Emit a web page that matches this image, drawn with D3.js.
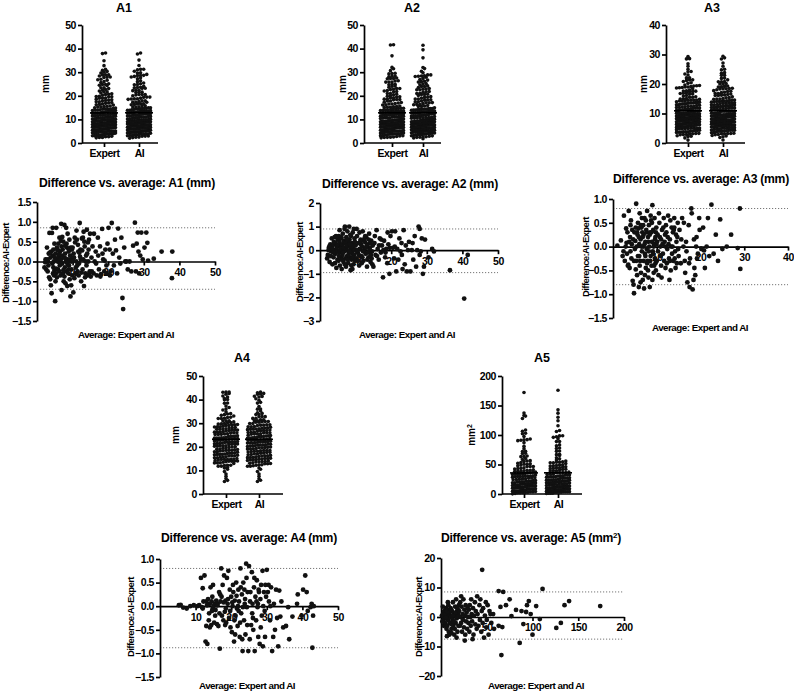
<!DOCTYPE html>
<html><head><meta charset="utf-8">
<script src="https://cdn.jsdelivr.net/npm/d3@7"></script>
<style>
body{margin:0;background:#fff;}
svg{display:block;font-family:"Liberation Sans",Arial,sans-serif;font-weight:bold;}
</style></head><body>
<svg id="chart" width="794" height="693"></svg>
<script>
const categories = ["Expert","AI"];

// [average, difference (AI-Expert)] pairs
const a1Pairs = [[2.1,-0.15],[2.4,0.05],[2.6,-0.2],[2.8,0.35],[3.0,-0.25],[3.1,0.0],[3.3,0.2],[3.4,-0.4],[3.5,0.72],[3.7,-0.45],[3.8,0.1],[3.9,-0.6],[4.0,0.25],[4.1,-0.8],[4.2,0.72],[4.3,-0.05],[4.4,0.15],[4.5,-0.3],[4.6,0.3],[4.7,0.0],[4.8,-0.35],[4.9,0.45],[5.0,0.1],[3.2,-0.1],[2.9,0.05],[4.6,-0.15],[3.6,0.22],[4.9,-0.22],[2.3,-0.02],[4.4,0.85],
[5.1,-1.0],[5.2,0.2],[5.3,-0.3],[5.4,0.85],[5.5,0.05],[5.6,-0.4],[5.7,0.3],[5.8,0.0],[5.9,-0.2],[6.0,0.45],[6.1,0.12],[6.2,-0.25],[6.3,0.6],[6.4,-0.1],[6.5,0.25],[6.6,-0.35],[6.7,0.05],[6.8,0.95],[6.9,-0.72],[7.0,0.15],[7.1,-0.05],[7.2,0.3],[7.3,-0.3],[7.4,0.5],[7.5,-0.5],[7.6,0.1],[7.7,0.92],[7.8,-0.15],[7.9,0.2],[8.0,-0.55],[8.1,0.0],[8.2,0.85],[8.3,-0.25],[8.4,0.35],[8.5,-0.62],[8.6,0.7],[8.7,0.05],[8.8,-0.3],[8.9,0.25],[9.0,-0.1],[9.1,0.55],[9.2,-0.45],[9.3,0.15],[9.4,-0.88],[9.5,0.35],[9.6,0.0],[9.7,-0.2],[9.8,0.3],[9.9,-0.35],[6.2,0.18],[6.9,0.38],[7.4,-0.22],[8.0,0.08],[8.6,-0.08],[9.2,0.02],[5.4,-0.18],[5.9,0.28],[7.1,0.62],[8.3,0.45],[9.6,-0.6],[6.5,-0.05],[7.7,-0.38],[8.9,-0.2],[5.2,-0.5],[6.7,0.52],[7.9,0.4],[9.0,0.3],[9.8,0.1],[8.4,-0.02],[5.6,0.35],
[10.0,0.35],[10.2,-0.78],[10.4,0.1],[10.6,0.6],[10.8,-0.3],[11.0,0.0],[11.2,0.55],[11.4,-0.25],[11.6,0.25],[11.8,-0.05],[12.0,0.97],[12.2,0.3],[12.4,-0.5],[12.6,0.58],[12.8,-0.2],[13.0,0.05],[13.2,-0.62],[13.4,0.38],[13.6,-0.3],[13.8,0.15],[14.0,0.8],[14.2,-0.35],[14.4,0.0],[14.6,0.55],[14.8,-0.25],[10.3,0.2],[10.9,-0.15],[11.5,0.42],[12.1,0.12],[12.7,0.28],[13.3,0.5],[13.9,-0.1],[14.5,0.3],[10.5,-0.42],[11.1,0.78],[11.7,-0.35],[12.3,0.05],[12.9,0.6],[13.5,-0.4],[14.1,0.2],[14.7,-0.3],[10.1,0.02],[10.7,0.48],[11.3,-0.1],[11.9,0.22],[12.5,-0.28],[13.1,0.75],[13.7,0.0],[14.3,0.48],[14.9,0.7],
[15.1,-0.38],[15.3,0.1],[15.6,0.38],[15.9,-0.3],[16.2,0.0],[16.5,0.25],[16.8,-0.35],[17.1,0.6],[17.4,-0.2],[17.7,0.38],[18.0,-0.32],[18.3,0.82],[18.6,0.05],[18.9,-0.25],[19.2,0.3],[19.5,-0.1],[19.8,0.45],[15.4,-0.25],[16.0,0.7],[16.6,-0.05],[17.2,0.15],[17.8,-0.38],[18.4,0.2],[19.0,0.02],[19.6,-0.3],
[20.1,0.85],[20.4,0.3],[20.7,-0.25],[21.0,0.97],[21.3,0.2],[21.6,-0.1],[21.9,0.55],[22.2,0.28],[22.5,-0.3],[22.8,0.83],[23.1,0.1],[23.4,-0.05],[23.7,0.6],[24.0,-0.92],[24.2,-1.2],[24.5,0.35],[24.8,0.0],[20.5,-0.35],
[25.1,0.0],[25.5,-0.2],[26.0,0.0],[26.5,-0.25],[27.0,0.4],[27.5,0.98],[27.8,-0.25],[28.0,0.45],[28.3,0.73],[28.7,-0.3],[29.0,0.15],[29.3,0.73],[29.7,0.05],[28.5,0.25],
[30.2,0.35],[30.7,0.73],[31.0,0.47],[31.2,0.02],[32.8,0.07],[35.0,0.25],[38.0,0.25],[37.9,-0.42]];

const a2Pairs = [[2.0,-0.35],[2.2,-0.2],[2.5,0.1],[2.7,-0.5],[2.9,0.25],[3.1,-0.05],[3.3,0.5],[3.5,-0.6],[3.6,0.2],[3.8,-0.3],[4.0,0.0],[4.1,0.55],[4.3,-0.15],[4.4,0.3],[4.6,-0.75],[4.7,0.1],[4.9,-0.4],[5.0,0.45],[2.6,0.15],[3.0,-0.25],[3.4,0.05],[3.9,0.35],[4.2,-0.55],[4.8,0.2],[2.4,0.0],[3.7,-0.1],[4.5,0.6],[4.9,-0.05],
[5.1,0.2],[5.2,-0.45],[5.3,0.6],[5.4,-0.1],[5.5,0.35],[5.6,-0.65],[5.7,0.0],[5.8,0.5],[5.9,-0.3],[6.0,0.15],[6.1,-0.8],[6.2,0.25],[6.3,-0.2],[6.4,0.7],[6.5,0.05],[6.6,-0.5],[6.7,0.4],[6.8,-0.05],[6.9,0.3],[7.0,1.0],[7.1,-0.35],[7.2,0.1],[7.3,-0.7],[7.4,0.55],[7.5,0.0],[7.6,-0.25],[7.7,0.8],[7.8,0.2],[7.9,-0.55],[8.0,0.35],[8.1,-0.1],[8.2,1.0],[8.3,0.45],[8.4,-0.3],[8.5,0.1],[8.6,-0.85],[8.7,0.6],[8.8,0.0],[8.9,-0.4],[9.0,0.3],[9.1,-0.15],[9.2,0.75],[9.3,0.05],[9.4,-0.6],[9.5,0.25],[9.6,-0.2],[9.7,0.5],[9.8,0.0],[9.9,-0.45],[5.3,-0.25],[5.8,0.05],[6.2,-0.4],[6.7,0.1],[7.1,0.3],[7.6,0.45],[8.0,-0.2],[8.5,0.65],[8.9,0.15],[9.3,-0.3],[9.8,0.35],[6.0,0.55],[6.5,-0.1],[7.0,-0.6],[7.5,0.2],[8.2,-0.05],[8.8,-0.65],[9.5,0.9],[5.5,0.85],[6.9,0.9],[7.8,-0.4],[8.4,0.25],[9.1,-0.8],
[10.0,0.2],[10.2,-0.35],[10.4,0.6],[10.6,-0.1],[10.8,0.3],[11.0,-0.65],[11.2,0.05],[11.4,0.45],[11.6,-0.25],[11.8,0.15],[12.0,0.8],[12.2,-0.45],[12.4,0.0],[12.6,0.35],[12.8,-0.15],[13.0,0.55],[13.2,-0.7],[13.4,0.25],[13.6,-0.3],[13.8,0.7],[14.0,0.1],[14.2,-0.5],[14.4,0.4],[14.6,-0.05],[14.8,0.2],[10.3,0.9],[10.9,-0.2],[11.5,0.25],[12.1,-0.05],[12.7,0.6],[13.3,-0.4],[13.9,0.0],[14.5,-0.35],[10.5,0.0],[11.1,0.75],[11.7,-0.55],[12.3,0.4],[12.9,0.1],[13.5,-0.1],[14.1,0.3],[14.7,-0.6],[10.7,-0.45],[11.3,0.35],[11.9,-0.3],[12.5,0.5],[13.1,0.2],[13.7,0.45],[14.3,-0.2],
[15.0,-0.7],[15.3,0.3],[15.6,-0.2],[15.9,0.85],[16.2,0.05],[16.5,-0.4],[16.8,0.5],[17.1,-0.1],[17.4,0.2],[17.7,-1.15],[18.0,0.4],[18.3,-0.3],[18.6,0.05],[18.9,-0.55],[19.2,0.25],[19.5,-1.0],[19.8,0.6],[15.4,0.6],[16.0,-0.25],[16.6,0.2],[17.2,0.45],[17.8,0.0],[18.4,-0.1],[19.0,0.75],[19.6,0.1],
[20.2,0.8],[20.5,0.1],[20.8,-0.35],[21.1,0.8],[21.4,-0.9],[21.7,0.05],[22.0,-0.4],[22.3,0.5],[22.6,-0.05],[22.9,0.3],[23.2,-0.8],[23.5,0.85],[23.8,-0.6],[24.1,0.2],[24.4,-0.9],[24.7,0.0],[21.0,0.15],[23.0,-0.2],
[25.0,0.35],[25.4,-0.9],[25.8,0.0],[26.2,-0.4],[26.6,0.6],[27.0,-0.7],[27.3,0.0],[27.7,1.0],[28.0,0.9],[28.3,-0.05],[28.6,0.5],[28.9,-1.0],[29.2,-0.7],[29.5,0.45],[26.0,0.3],[28.0,-0.2],
[30.5,-0.3],[31.5,0.05],[32.0,-0.05],[36.5,-0.85],[40.5,-2.05],[41.5,-0.2]];

const a3Pairs = [[1.0,0.02],[1.8,0.13],[2.2,-0.2],[2.5,0.65],[2.7,-0.3],[2.9,0.0],[3.0,0.38],[3.2,-0.15],[3.3,0.3],[3.5,-0.38],[3.6,0.75],[3.7,0.1],[3.8,-0.45],[3.9,0.2],[4.0,-0.1],[4.1,0.55],[4.2,-0.25],[4.3,0.05],[4.4,0.35],[4.5,-0.72],[4.6,0.15],[4.7,-0.8],[4.8,-0.98],[4.9,0.3],[5.0,-0.05],[2.4,-0.1],[3.1,0.08],[3.4,-0.4],[4.0,0.45],[4.8,-0.3],
[5.1,0.12],[5.2,-0.48],[5.3,0.9],[5.4,0.0],[5.5,-0.6],[5.6,0.25],[5.7,-0.2],[5.8,0.38],[5.9,-0.85],[6.0,0.05],[6.1,0.7],[6.2,-0.3],[6.3,0.15],[6.4,-0.55],[6.5,0.4],[6.6,-0.1],[6.7,0.3],[6.8,-0.7],[6.9,0.0],[7.0,0.25],[7.1,-0.88],[7.2,0.6],[7.3,-0.15],[7.4,0.1],[7.5,-0.45],[7.6,0.35],[7.7,-0.05],[7.8,0.75],[7.9,-0.3],[8.0,0.2],[8.1,-0.65],[8.2,0.45],[8.3,0.0],[8.4,-0.85],[8.5,0.3],[8.6,-0.2],[8.7,0.55],[8.8,-0.4],[8.9,0.1],[9.0,0.87],[9.1,-0.1],[9.2,0.35],[9.3,-0.55],[9.4,0.05],[9.5,0.6],[9.6,-0.25],[9.7,0.2],[9.8,-0.5],[9.9,0.4],[5.3,-0.3],[5.7,0.5],[6.1,-0.4],[6.5,0.0],[6.9,0.45],[7.3,-0.6],[7.7,0.3],[8.1,0.1],[8.5,-0.3],[8.9,0.5],[9.3,0.0],[9.7,-0.35],[5.5,0.3],[6.0,-0.2],[6.6,0.6],[7.2,0.05],[7.8,-0.35],[8.4,0.25],[9.0,-0.7],[9.6,0.15],[5.9,0.2],[6.3,-0.75],[7.0,-0.3],[7.5,0.55],[8.2,-0.1],[8.8,0.3],[9.4,-0.4],[9.9,0.05],[5.2,0.4],[6.8,0.2],[7.4,-0.2],[8.0,-0.5],[8.6,0.65],[9.2,-0.15],[9.8,0.3],[6.4,0.45],
[10.0,-0.3],[10.2,0.25],[10.4,-0.6],[10.6,0.5],[10.8,0.0],[11.0,-0.4],[11.2,0.35],[11.4,-0.15],[11.6,0.6],[11.8,0.1],[12.0,-0.45],[12.2,0.3],[12.4,-0.05],[12.6,0.65],[12.8,-0.25],[13.0,0.15],[13.2,-0.5],[13.4,0.4],[13.6,0.0],[13.8,-0.3],[14.0,0.6],[14.2,-0.1],[14.4,0.25],[14.6,-0.35],[14.8,0.5],[10.1,0.1],[10.5,0.7],[10.9,-0.2],[11.3,0.05],[11.7,-0.3],[12.1,0.45],[12.5,0.2],[12.9,-0.7],[13.3,0.0],[13.7,0.3],[14.1,-0.25],[14.5,0.1],[14.9,-0.05],[10.3,-0.1],[10.7,0.2],[11.1,-0.65],[11.5,0.4],[11.9,0.25],[12.3,-0.35],[12.7,0.05],[13.1,0.55],[13.5,-0.15],[13.9,0.35],[14.3,-0.45],[14.7,0.2],[11.0,0.15],[12.0,0.0],[13.0,-0.3],[14.0,0.4],[15.0,-0.2],
[15.2,0.35],[15.5,-0.35],[15.8,0.6],[16.1,0.0],[16.4,-0.3],[16.7,0.1],[17.0,-0.75],[17.3,0.45],[17.6,-0.25],[17.9,0.8],[18.2,-0.9],[18.5,0.15],[18.8,-0.6],[19.1,0.2],[19.4,-0.15],[19.7,0.6],[15.6,0.15],[16.2,0.5],[16.8,-0.1],[17.4,-0.35],[18.0,0.7],[18.6,-0.45],[19.2,-0.25],[19.8,0.35],[17.5,-0.85],[18.4,-0.7],[16.5,-0.55],[19.0,0.0],
[20.2,-0.05],[20.6,0.4],[21.0,-0.45],[21.4,0.0],[21.7,0.6],[22.0,-0.2],[22.5,0.88],[23.0,-0.15],[23.5,0.25],[24.0,-0.3],[24.5,0.57],[20.8,-0.08],
[25.0,-0.05],[26.0,0.0],[27.0,0.25],[28.5,-0.03],[29.0,0.8],[29.1,-0.47]];

const a4Pairs = [[5.3,0.02],[5.8,0.03],[6.5,-0.03],[7.5,-0.05],[8.5,0.0],[9.5,0.02],
[10.5,0.0],[11.0,0.02],[11.5,0.6],[12.0,0.38],[12.0,-0.05],[12.5,0.65],[12.8,-0.75],[13.0,0.1],[13.0,-0.42],[13.3,-0.8],[13.5,0.15],[13.7,-0.3],[14.0,0.05],[14.0,-0.45],[14.2,0.4],[14.4,-0.4],[14.5,0.1],[14.7,0.2],[14.8,-0.05],[12.2,0.1],[13.8,-0.15],[11.8,-0.02],[14.9,0.45],[13.2,0.02],[14.6,-0.1],
[15.0,0.0],[15.2,-0.35],[15.4,0.05],[15.6,-0.08],[15.8,0.12],[16.0,-0.38],[16.2,0.05],[16.4,-0.42],[16.6,0.3],[16.8,-0.9],[17.0,0.1],[17.2,0.8],[17.4,-0.2],[17.6,0.45],[17.8,-0.3],[18.0,0.65],[18.2,-0.12],[18.4,0.12],[18.6,-0.35],[18.8,0.6],[19.0,0.05],[19.2,0.75],[19.4,-0.25],[19.6,0.35],[19.8,-0.45],[15.5,-0.2],[16.1,0.02],[16.7,-0.15],[17.3,0.2],[17.9,0.08],[18.5,-0.05],[19.1,0.15],[19.7,-0.1],[18.3,-0.4],[16.9,0.25],
[20.0,0.2],[20.2,-0.55],[20.4,0.0],[20.6,0.3],[20.8,-0.75],[21.0,0.12],[21.2,-0.2],[21.4,0.5],[21.6,-0.05],[21.8,-0.42],[22.0,0.35],[22.2,0.1],[22.4,-0.65],[22.6,0.8],[22.8,-0.15],[23.0,0.25],[23.2,-0.95],[23.4,0.5],[23.6,-0.3],[23.8,0.05],[24.0,-0.6],[24.2,0.9],[24.4,-0.02],[24.6,0.3],[24.8,-0.95],[20.3,0.08],[20.9,-0.3],[21.5,0.22],[22.1,-0.1],[22.7,0.4],[23.3,-0.02],[23.9,0.15],[24.5,-0.4],[20.5,0.45],[21.1,-0.6],[21.9,0.0],[22.5,-0.35],[23.1,-0.7],[23.7,0.35],[24.3,0.6],
[25.0,0.85],[25.2,-0.7],[25.4,0.3],[25.6,-0.4],[25.8,0.72],[26.0,0.05],[26.2,-0.5],[26.4,0.4],[26.6,-0.95],[26.8,0.2],[27.0,-0.3],[27.2,0.55],[27.4,-0.02],[27.6,-0.65],[27.8,0.3],[28.0,-0.8],[28.2,0.15],[28.4,0.45],[28.6,-0.2],[28.8,0.75],[29.0,0.0],[29.2,0.3],[29.4,-0.1],[29.6,0.45],[29.8,0.2],[25.3,0.1],[25.9,-0.15],[26.5,0.6],[27.1,0.1],[27.7,0.35],[28.3,-0.45],[28.9,-0.85],[29.5,-0.65],[26.1,-0.25],[27.5,0.05],
[30.0,0.77],[30.3,0.3],[30.6,0.1],[30.9,-0.3],[31.2,0.4],[31.5,-0.95],[31.8,-0.65],[32.0,0.05],[32.3,-0.5],[32.6,0.35],[32.9,-0.25],[33.2,-0.85],[33.5,0.33],[33.8,-0.22],[34.1,0.1],[34.6,-0.45],[30.5,0.45],[31.0,0.0],
[35.4,-0.42],[36.0,-0.02],[36.3,-0.7],[38.5,0.05],[38.7,0.25],[39.8,-0.2],[37.2,-0.22],
[40.2,0.35],[40.8,0.65],[41.2,0.3],[42.3,-0.02],[42.6,0.05],[42.8,-0.88],[43.0,-0.2],[41.5,-0.1],[43.2,0.0]];

const a5Pairs = [[1,0.5],[2,-1.5],[2.5,1],[3,-3],[3.5,2],[4,-0.5],[4.5,1.5],[5,-2.5],[5.5,3],[6,-4],[6.5,0.5],[7,2.5],[7.5,-1],[8,4],[8.5,-5],[9,1],[9.5,-2],[3,0],[4,-1.8],[5,0.8],[6,2],[7,-3],[8,0],[9,-6],[2,3.5],[5.5,-0.2],[7.5,5],[9.5,1.8],[1.5,-1.5],[6.5,-6.5],
[10,-2],[10.5,3],[11,0],[11.5,-4],[12,2],[12.5,-1],[13,5],[13.5,-3],[14,1],[14.5,-6],[15,0.5],[15.5,3.5],[16,-2],[16.5,6],[17,-0.5],[17.5,2],[18,-5],[18.5,1],[19,-3],[19.5,4],[11,2.5],[12,-2.5],[13,0.5],[14,-1.5],[15,-4],[16,1.5],[17,-7],[18,3],[19,0],[11.5,-5.5],
[20,2],[20.5,-3],[21,5],[21.5,0],[22,-2],[22.5,3.5],[23,-5],[23.5,1],[24,-1],[24.5,6],[25,-3.5],[25.5,2.5],[26,0.5],[26.5,-6],[27,4],[27.5,-1.5],[28,1.5],[28.5,-4],[29,3],[29.5,0],[22,7],[26,-8],
[30,-2],[30.5,2.5],[31,-5],[31.5,4],[32,0],[32.5,-3],[33,6],[33.5,1],[34,-1.5],[35,3],[35.5,-6],[36,0.5],[37,5],[37.5,-2.5],[38,2],[39,-4],[39.5,7],[34.5,-7.5],
[40,1],[41,-3],[42,4],[42.5,-1],[43,6],[44,-5],[44.5,2],[45,16],[45.5,-2],[46,3],[47,-7],[48,0.5],[49,5],[49.5,-3.5],
[50,-1],[51,4],[52,-6],[53,2],[54,1],[55,-2],[57,1],[58,-4],
[63,8.8],[63,-3],[65,3.4],[66,-12.9],[67,-3.4],[68,8.5],
[71,4],[75,6],[77,0.3],[82,2.4],[86,-8.8],[88,2],
[90,-2.4],[93,1.7],[94,4],[96,5.4],[98,1],[100,-6],[104,3.7],[108,-0.7],
[111,9.5],[126,-3.7],[131,-2],[135,4],[140,5.4],[174,3.7]];

// limits of agreement (upper, lower)
const a1Limits = [0.85,-0.70];
const a2Limits = [0.90,-0.95];
const a3Limits = [0.80,-0.80];
const a4Limits = [0.80,-0.88];
const a5Limits = [8.5,-7.5];

// tick labels
const a1YTicks = [0,10,20,30,40,50];
const a2YTicks = [0,10,20,30,40,50];
const a3YTicks = [0,10,20,30,40];
const a4YTicks = [0,10,20,30,40,50];
const a5YTicks = [0,50,100,150,200];
const a1DiffTicks = [-1.5,-1.0,-0.5,0,0.5,1.0,1.5];
const a2DiffTicks = [-3,-2,-1,0,1,2];
const a3DiffTicks = [-1.5,-1.0,-0.5,0,0.5,1.0];
const a4DiffTicks = [-1.5,-1.0,-0.5,0,0.5,1.0];
const a5DiffTicks = [-20,-10,0,10,20];
const a1AvgTicks = [10,20,30,40,50];
const a2AvgTicks = [10,20,30,40,50];
const a3AvgTicks = [10,20,30,40];
const a4AvgTicks = [10,20,30,40,50];
const a5AvgTicks = [50,100,150,200];

const svg = d3.select("#chart");
const FONT = '"Liberation Sans", Arial, sans-serif';

function styleAxis(g){
  g.attr("font-family",FONT).attr("font-size",10.5).attr("font-weight","bold");
  g.selectAll(".domain").attr("stroke","#000").attr("stroke-width",1.7);
  g.selectAll(".tick line").attr("stroke","#000").attr("stroke-width",1.7);
  g.selectAll(".tick text").attr("fill","#000").attr("letter-spacing",-0.45);
}

function text(x,y,str,opts={}){
  const t = svg.append("text").attr("x",x).attr("y",y)
    .attr("text-anchor","middle").attr("font-family",FONT).attr("font-weight","bold")
    .attr("font-size",opts.size||10).attr("letter-spacing",opts.ls||0).attr("fill","#000");
  if(opts.rotate){ t.attr("transform",`rotate(-90,${x},${y})`).attr("dy","0.35em"); }
  return t.text(str);
}

function scatterPanel(p, pairs){
  const g = svg.append("g");
  const y = d3.scaleLinear().domain([0,p.yMax]).range([p.y0,p.yTop]);
  const x = d3.scalePoint().domain(categories).range([p.xE,p.xA]);
  const cols = {Expert: pairs.map(d=>d[0]-d[1]/2), AI: pairs.map(d=>d[0]+d[1]/2)};
  const ya = d3.axisLeft(y).tickValues(p.yTicks).tickSize(4).tickPadding(2).tickSizeOuter(0).tickFormat(d3.format("d"));
  styleAxis(g.append("g").attr("transform",`translate(${p.ax},0)`).call(ya));
  const xa = d3.axisBottom(x).tickSize(4).tickSizeOuter(0);
  const gx = g.append("g").attr("transform",`translate(0,${p.y0})`).call(xa);
  gx.select(".domain").attr("d",`M${p.ax},0H${p.xEnd}`);
  styleAxis(gx);
  const binH = 2.8, maxHalf = 11.5;
  categories.forEach(c=>{
    const vals = cols[c].slice().sort((a,b)=>a-b);
    const bins = d3.group(vals, v=>Math.round(y(v)/binH));
    const pts = [];
    bins.forEach(arr=>{
      const n = arr.length;
      const s = n>1 ? Math.min(3.1, 2*maxHalf/(n-1)) : 0;
      arr.forEach((v,i)=>pts.push({x:x(c)+(i-(n-1)/2)*s, y:y(v)}));
    });
    g.append("g").selectAll("circle").data(pts).join("circle")
      .attr("cx",d=>d.x).attr("cy",d=>d.y).attr("r",1.8).attr("fill","#111");
    const m = d3.mean(cols[c]);
    g.append("line").attr("x1",x(c)-14).attr("x2",x(c)+14).attr("y1",y(m)).attr("y2",y(m))
      .attr("stroke","#000").attr("stroke-width",1.6);
  });
  text(p.titleX,p.titleY,p.title,{size:12.5});
  const yl = text(p.ylX,(p.y0+p.yTop)/2,p.ylabel,{rotate:true,size:10});
  if(p.sup){ yl.append("tspan").attr("baseline-shift","super").attr("font-size",7).text(p.sup); }
}

function baPanel(p, pairs, limits){
  const g = svg.append("g");
  const x = d3.scaleLinear().domain([0,p.xMax]).range([p.ax,p.xEnd]);
  const y = d3.scaleLinear().domain([p.yMin,p.yMax]).range([p.yBot,p.yTop]);
  limits.forEach(v=>{
    g.append("line").attr("x1",p.ax).attr("x2",p.xEnd).attr("y1",y(v)).attr("y2",y(v))
      .attr("stroke","#777").attr("stroke-width",1).attr("stroke-dasharray","1.2,1.8");
  });
  const ya = d3.axisLeft(y).tickValues(p.yTicks).tickSize(4).tickPadding(2).tickSizeOuter(0).tickFormat(d3.format(p.fmt));
  styleAxis(g.append("g").attr("transform",`translate(${p.ax},0)`).call(ya));
  const xa = d3.axisBottom(x).tickValues(p.xTicks).tickSize(4).tickSizeOuter(0).tickFormat(d3.format("d"));
  styleAxis(g.append("g").attr("transform",`translate(0,${y(0)})`).call(xa));
  g.append("g").selectAll("circle").data(pairs).join("circle")
    .attr("cx",d=>x(d[0])).attr("cy",d=>y(d[1])).attr("r",2.4).attr("fill","#111");
  const t = text(p.titleX,p.titleY,p.title,{size:12.2,ls:-0.3});
  if(p.sup){ t.append("tspan").attr("baseline-shift","super").attr("font-size",8).text(p.sup); t.append("tspan").text(")"); }
  text(p.ylX,p.ylY,"Difference:AI-Expert",{rotate:true,size:9.5,ls:-0.6});
  text(p.xlX,p.xlY,"Average: Expert and AI",{size:9.8,ls:-0.5});
}

scatterPanel({ax:82,y0:143,yTop:25,yMax:50,yTicks:a1YTicks,xE:104,xA:139,xEnd:158,title:"A1",titleX:124,titleY:12,ylabel:"mm",ylX:45},a1Pairs);
scatterPanel({ax:364,y0:143,yTop:25,yMax:50,yTicks:a2YTicks,xE:392,xA:423,xEnd:441,title:"A2",titleX:412,titleY:12,ylabel:"mm",ylX:342},a2Pairs);
scatterPanel({ax:666,y0:143,yTop:25,yMax:40,yTicks:a3YTicks,xE:688,xA:723,xEnd:745,title:"A3",titleX:712,titleY:12,ylabel:"mm",ylX:643},a3Pairs);
scatterPanel({ax:203,y0:494,yTop:376,yMax:50,yTicks:a4YTicks,xE:226,xA:259,xEnd:283,title:"A4",titleX:242,titleY:362,ylabel:"mm",ylX:175},a4Pairs);
scatterPanel({ax:502,y0:494,yTop:376,yMax:200,yTicks:a5YTicks,xE:524,xA:558,xEnd:582,title:"A5",titleX:542,titleY:362,ylabel:"mm",sup:"2",ylX:471},a5Pairs);

baPanel({ax:37,xEnd:215,xMax:50,yBot:321,yTop:202,yMin:-1.5,yMax:1.5,yTicks:a1DiffTicks,fmt:".1f",xTicks:a1AvgTicks,
  title:"Difference vs. average: A1 (mm)",titleX:127,titleY:187,ylX:6,ylY:263,xlX:126,xlY:338},a1Pairs,a1Limits);
baPanel({ax:320,xEnd:498,xMax:50,yBot:321,yTop:203,yMin:-3,yMax:2,yTicks:a2DiffTicks,fmt:"d",xTicks:a2AvgTicks,
  title:"Difference vs. average: A2 (mm)",titleX:410,titleY:188,ylX:300,ylY:262,xlX:407,xlY:338},a2Pairs,a2Limits);
baPanel({ax:613,xEnd:788,xMax:40,yBot:318,yTop:199,yMin:-1.5,yMax:1.0,yTicks:a3DiffTicks,fmt:".1f",xTicks:a3AvgTicks,
  title:"Difference vs. average: A3 (mm)",titleX:701,titleY:183,ylX:586,ylY:257,xlX:700,xlY:331},a3Pairs,a3Limits);
baPanel({ax:160,xEnd:338,xMax:50,yBot:677,yTop:559,yMin:-1.5,yMax:1.0,yTicks:a4DiffTicks,fmt:".1f",xTicks:a4AvgTicks,
  title:"Difference vs. average: A4 (mm)",titleX:249,titleY:542,ylX:131,ylY:617,xlX:247,xlY:689},a4Pairs,a4Limits);
baPanel({ax:441,xEnd:624,xMax:200,yBot:676,yTop:558,yMin:-20,yMax:20,yTicks:a5DiffTicks,fmt:"d",xTicks:a5AvgTicks,
  title:"Difference vs. average: A5 (mm",sup:"2",titleX:531,titleY:542,ylX:419,ylY:617,xlX:536,xlY:689},a5Pairs,a5Limits);
</script></body></html>
